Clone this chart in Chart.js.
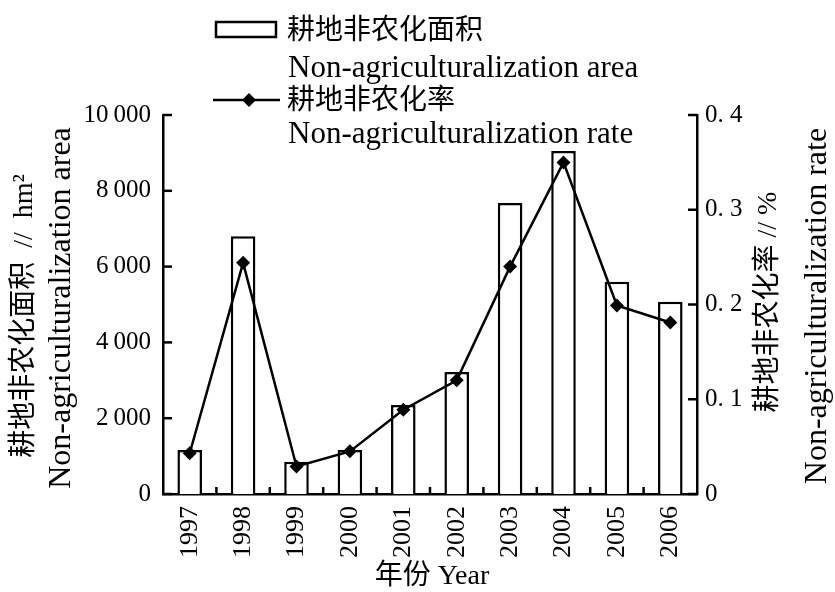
<!DOCTYPE html>
<html>
<head>
<meta charset="utf-8">
<script src="https://cdn.jsdelivr.net/npm/chart.js@4.4.1/dist/chart.umd.min.js"></script>
<style>
  body { margin: 0; background: #fff; }
  #wrap { width: 835px; height: 592px; }
</style>
</head>
<body>
<div id="wrap"><canvas id="grafico" width="835" height="592"></canvas></div>
<script>
// Dados
const anos = ['1997', '1998', '1999', '2000', '2001', '2002', '2003', '2004', '2005', '2006'];
const areaNaoAgricola = [1160, 6800, 850, 1160, 2350, 3220, 7680, 9050, 5600, 5070];
const taxaNaoAgricola = [0.043, 0.244, 0.029, 0.045, 0.089, 0.120, 0.240, 0.350, 0.199, 0.181];

// Textos
const legendaArea = ['耕地非农化面积', 'Non-agriculturalization area'];
const legendaTaxa = ['耕地非农化率', 'Non-agriculturalization rate'];
const tituloEsq = ['耕地非农化面积  //  hm²', 'Non-agriculturalization area'];
const tituloDir = ['耕地非农化率 // %', 'Non-agriculturalization rate'];
const tituloX = '年份 Year';

const fonteCJK = '28px "Noto Sans CJK SC", "Liberation Serif", serif';
const fonteLatim = '31px "Liberation Serif", "Noto Sans CJK SC", serif';
const fonteMista = '28px "Liberation Serif", "Noto Sans CJK SC", serif';
const fonteTituloLatim = '32px "Liberation Serif", "Noto Sans CJK SC", serif';

// Escreve texto girado (de baixo para cima)
function textoVertical(ctx, texto, cx, cy, fonte) {
    ctx.save();
    ctx.translate(cx, cy);
    ctx.rotate(-Math.PI / 2);
    ctx.font = fonte;
    ctx.textAlign = 'center';
    ctx.textBaseline = 'middle';
    ctx.fillText(texto, 0, 0);
    ctx.restore();
}

// Plugin: marcas internas dos eixos, títulos e legenda
const decoracao = {
    id: 'decoracao',
    afterDraw(chart) {
        const ctx = chart.ctx;
        const { left, right, bottom } = chart.chartArea;
        const sy = chart.scales.y, sy1 = chart.scales.y1, sx = chart.scales.x;
        ctx.save();
        ctx.strokeStyle = '#000';
        ctx.fillStyle = '#000';
        ctx.lineWidth = 2.5;

        // marcas para dentro
        sy.ticks.forEach(t => {
            const py = sy.getPixelForValue(t.value);
            ctx.beginPath(); ctx.moveTo(left, py); ctx.lineTo(left + 9, py); ctx.stroke();
        });
        sy1.ticks.forEach(t => {
            const py = sy1.getPixelForValue(t.value);
            ctx.beginPath(); ctx.moveTo(right, py); ctx.lineTo(right - 9, py); ctx.stroke();
        });
        for (let i = 0; i < anos.length - 1; i++) {
            const px = (sx.getPixelForValue(i) + sx.getPixelForValue(i + 1)) / 2;
            ctx.beginPath(); ctx.moveTo(px, bottom); ctx.lineTo(px, bottom - 7); ctx.stroke();
        }

        // títulos dos eixos
        textoVertical(ctx, tituloEsq[0], 25, 316, fonteMista);
        textoVertical(ctx, tituloEsq[1], 62, 308, fonteTituloLatim);
        textoVertical(ctx, tituloDir[0], 769, 302, fonteMista);
        textoVertical(ctx, tituloDir[1], 818, 306, fonteTituloLatim);
        ctx.font = fonteMista;
        ctx.textAlign = 'center';
        ctx.textBaseline = 'middle';
        ctx.fillText(tituloX, 432, 577);

        // legenda
        ctx.lineWidth = 2.5;
        ctx.strokeRect(216, 22, 60, 15);
        ctx.beginPath(); ctx.moveTo(213, 100); ctx.lineTo(280, 100); ctx.stroke();
        ctx.beginPath();
        ctx.moveTo(249, 93); ctx.lineTo(256, 100); ctx.lineTo(249, 107); ctx.lineTo(242, 100);
        ctx.closePath(); ctx.fill();

        ctx.textAlign = 'left';
        ctx.textBaseline = 'middle';
        ctx.font = fonteCJK;
        ctx.fillText(legendaArea[0], 287, 28);
        ctx.fillText(legendaTaxa[0], 287, 98);
        ctx.textBaseline = 'alphabetic';
        ctx.font = fonteLatim;
        ctx.fillText(legendaArea[1], 288, 77);
        ctx.fillText(legendaTaxa[1], 288, 143);
        ctx.restore();
    }
};

function formatarMilhar(v) {
    if (v < 10000) return v >= 1000 ? String(v).replace(/(\d)(\d{3})$/, '$1\u2009$2') : String(v);
    return '10\u2009000';
}

function criarGrafico() {
    const ctx = document.getElementById('grafico').getContext('2d');
    return new Chart(ctx, {
        data: {
            labels: anos,
            datasets: [
                {
                    type: 'line',
                    label: legendaTaxa[0],
                    data: taxaNaoAgricola,
                    yAxisID: 'y1',
                    borderColor: '#000',
                    backgroundColor: '#000',
                    borderWidth: 2.5,
                    pointStyle: 'rectRot',
                    pointRadius: 7,
                    pointBorderWidth: 0,
                    tension: 0,
                    order: 0
                },
                {
                    type: 'bar',
                    label: legendaArea[0],
                    data: areaNaoAgricola,
                    yAxisID: 'y',
                    backgroundColor: '#fff',
                    borderColor: '#000',
                    borderWidth: 2.5,
                    barPercentage: 0.46,
                    categoryPercentage: 1,
                    order: 1
                }
            ]
        },
        options: {
            responsive: false,
            animation: false,
            layout: { padding: { left: 0, right: 0, top: 115, bottom: 0 } },
            plugins: { legend: { display: false }, tooltip: { enabled: false } },
            scales: {
                x: {
                    offset: true,
                    grid: { display: false, drawTicks: false },
                    border: { display: true, color: '#000', width: 2.5 },
                    ticks: {
                        color: '#000', minRotation: 90, maxRotation: 90, padding: 12,
                        font: { family: '"Liberation Serif", serif', size: 26 }
                    },
                    afterFit: s => { s.height = 98; }
                },
                y: {
                    position: 'left',
                    min: 0, max: 10000,
                    grid: { display: false, drawTicks: false },
                    border: { display: true, color: '#000', width: 2.5 },
                    ticks: {
                        stepSize: 2000, color: '#000', padding: 12,
                        font: { family: '"Liberation Serif", serif', size: 25 },
                        callback: v => formatarMilhar(v)
                    },
                    afterFit: s => { s.width = 163; }
                },
                y1: {
                    position: 'right',
                    min: 0, max: 0.4,
                    grid: { display: false, drawTicks: false },
                    border: { display: true, color: '#000', width: 2.5 },
                    ticks: {
                        stepSize: 0.1, color: '#000', padding: 8,
                        font: { family: '"Liberation Serif", serif', size: 25 },
                        callback: v => v === 0 ? '0' : '0. ' + Math.round(v * 10)
                    },
                    afterFit: s => { s.width = 138; }
                }
            }
        },
        plugins: [decoracao]
    });
}

document.addEventListener('DOMContentLoaded', () => {
    criarGrafico();
});
</script>
</body>
</html>
